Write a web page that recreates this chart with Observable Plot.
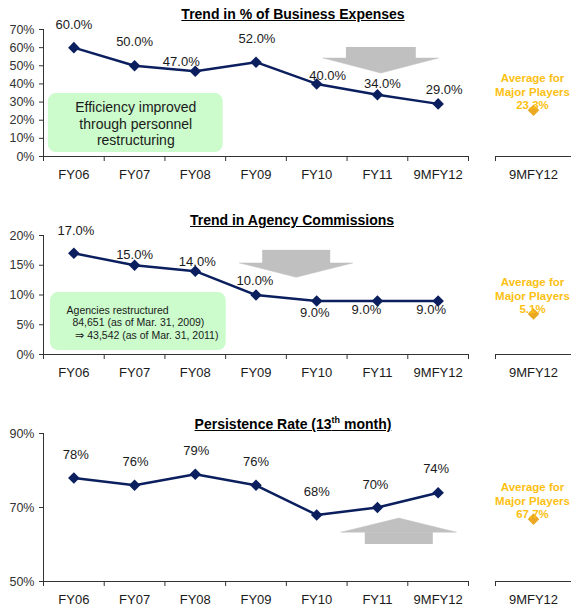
<!DOCTYPE html>
<html>
<head>
<meta charset="utf-8">
<script src="https://cdn.jsdelivr.net/npm/d3@7"></script>
<script src="https://cdn.jsdelivr.net/npm/@observablehq/plot@0.6"></script>
<style>
  body { margin: 0; background: #fff; }
  #chart { position: relative; width: 571px; height: 606px; overflow: hidden; font-family: "Liberation Sans", Arial, sans-serif; background: #fff; }
  .title { position: absolute; transform: translateX(-50%); font-weight: bold; font-size: 14px; text-decoration: underline; white-space: nowrap; line-height: 16px; color: #000; z-index: 2; }
  .title sup { font-size: 9px; line-height: 0; }
  .panel { position: absolute; }
</style>
</head>
<body>
<div id="chart"></div>
<script>
// ---------- data ----------
const periods = ["FY06", "FY07", "FY08", "FY09", "FY10", "FY11", "9MFY12"];
const expenseRatio = [60.0, 50.0, 47.0, 52.0, 40.0, 34.0, 29.0];
const agencyCommission = [17.0, 15.0, 14.0, 10.0, 9.0, 9.0, 9.0];
const persistenceRate = [78, 76, 79, 76, 68, 70, 74];

const peerPeriod = "9MFY12";
const peerExpense = 23.3;
const peerCommission = 5.1;
const peerPersistence = 67.7;

const expenseTicks = [0, 10, 20, 30, 40, 50, 60, 70];
const commissionTicks = [0, 5, 10, 15, 20];
const persistenceTicks = [50, 70, 90];

const titles = ["Trend in % of Business Expenses", "Trend in Agency Commissions", "Persistence Rate (13<sup>th</sup> month)"];
const peerLabel = "Average for\nMajor Players";
const expenseNote = "Efficiency improved\nthrough personnel\nrestructuring";
const commissionNote = "Agencies restructured\n  84,651 (as of Mar. 31, 2009)\n   \u21d2 43,542 (as of Mar. 31, 2011)";

// ---------- styling ----------
const navy = "#0b1f5e";
const gold = "#fdbf12";
const goldDot = "#eaa823";
const gray = "#c0c0c0";
const green = "#ccfbcc";
const axisColor = "#333";
const textColor = "#1a1a1a";
const font = "'Liberation Sans', Arial, sans-serif";

const chart = document.getElementById("chart");

function place(el, left, top) {
  el.classList.add("panel");
  el.style.left = left + "px";
  el.style.top = top + "px";
  chart.appendChild(el);
}

function arrowMarks(a) {
  const tri = [
    {x: a.cx - a.halfHead, y1: a.yNeck, y2: a.yNeck},
    {x: a.cx, y1: a.yTip, y2: a.yNeck},
    {x: a.cx + a.halfHead, y1: a.yNeck, y2: a.yNeck}
  ];
  return [
    Plot.rect([a], {x1: d => d.cx - d.halfShaft, x2: d => d.cx + d.halfShaft, y1: "yTail", y2: "yNeck", fill: gray}),
    Plot.areaY(tri, {x: "x", y1: "y1", y2: "y2", fill: gray, stroke: gray, strokeWidth: 0.5})
  ];
}

function mainPanel(o) {
  const data = o.values.map((v, i) => ({i, v}));
  const marks = [];
  if (o.box) {
    marks.push(Plot.rect([o.box], {x1: "x1", x2: "x2", y1: "y1", y2: "y2", fill: green, rx: 8}));
    marks.push(Plot.text([o.box], {x: "tx", y: "ty", text: "text", textAnchor: o.box.anchor, lineAnchor: "middle",
      fontSize: o.box.fontSize, lineHeight: o.box.lineHeight, fill: textColor}));
  }
  marks.push(...arrowMarks(o.arrow));
  marks.push(
    Plot.ruleX([-0.5], {stroke: axisColor}),
    Plot.ruleY([o.yDomain[0]], {stroke: axisColor}),
    Plot.axisY({ticks: o.yTicks, tickFormat: d => d + "%", tickSize: 4, tickPadding: 5, fontSize: 12.5, color: axisColor, label: null}),
    Plot.axisX({ticks: d3.range(-0.5, 7, 1), tickSize: 5, tickFormat: () => "", color: axisColor, label: null}),
    Plot.axisX({ticks: d3.range(periods.length), tickSize: 0, tickPadding: 13, tickFormat: i => periods[i], fontSize: 13, color: textColor, label: null}),
    Plot.line(data, {x: "i", y: "v", stroke: navy, strokeWidth: 2.5}),
    Plot.dot(data, {x: "i", y: "v", symbol: "diamond2", r: 5.2, fill: navy, stroke: "none"}),
    ...data.map((d, k) => Plot.text([d], {x: "i", y: "v", text: d => o.fmt(d.v), dx: o.dx[k], dy: o.dy[k], fontSize: 13, fill: textColor}))
  );
  return Plot.plot({
    width: 470, height: o.height,
    marginLeft: 43, marginRight: 2, marginTop: o.marginTop, marginBottom: o.marginBottom,
    x: {type: "linear", domain: [-0.5, 6.5]},
    y: {type: "linear", domain: o.yDomain},
    style: {fontFamily: font, fontSize: "13px", background: "transparent", color: textColor},
    marks
  });
}

function sidePanel(o) {
  const d = [{i: 0, v: o.value}];
  return Plot.plot({
    width: 91, height: o.height,
    marginLeft: 15, marginRight: 0, marginTop: o.marginTop, marginBottom: o.marginBottom,
    x: {type: "linear", domain: [-0.5, 0.5]},
    y: {type: "linear", domain: o.yDomain, axis: null},
    style: {fontFamily: font, fontSize: "13px", background: "transparent", color: textColor},
    marks: [
      Plot.ruleY([o.yDomain[0]], {stroke: axisColor}),
      Plot.axisX({ticks: [-0.5, 0.5], tickSize: 5, tickFormat: () => "", color: axisColor, label: null}),
      Plot.axisX({ticks: [0], tickSize: 0, tickPadding: 13, tickFormat: () => peerPeriod, fontSize: 13, color: textColor, label: null}),
      Plot.dot(d, {x: "i", y: "v", symbol: "diamond2", r: 5.2, fill: goldDot}),
      Plot.text(d, {x: "i", y: "v", text: p => peerLabel + "\n" + p.v.toFixed(1) + "%", lineAnchor: "bottom", dy: -1, dx: -1,
        fontWeight: "bold", fontSize: 11.5, lineHeight: 1.17, fill: gold})
    ]
  });
}

// ---------- panel 1 ----------
place(mainPanel({
  values: expenseRatio, yDomain: [0, 70], yTicks: expenseTicks, fmt: v => v.toFixed(1) + "%",
  height: 190, marginTop: 29, marginBottom: 34,
  dx: [0, 0, -14, 1, 11, 5, 6], dy: [-23, -24, -9, -23, -8, -11, -14],
  box: {x1: -0.42, x2: 2.46, y1: 2.2, y2: 34.7, tx: 1.02, ty: 18.2, text: expenseNote, anchor: "middle", fontSize: 14, lineHeight: 1.18},
  arrow: {cx: 5.065, halfShaft: 0.575, halfHead: 0.95, yTail: 60.1, yNeck: 54.0, yTip: 45.7}
}), 0, 0);
place(sidePanel({value: peerExpense, yDomain: [0, 64], height: 190, marginTop: 29, marginBottom: 34}), 480, 0);

// ---------- panel 2 ----------
place(mainPanel({
  values: agencyCommission, yDomain: [0, 20], yTicks: commissionTicks, fmt: v => v.toFixed(1) + "%",
  height: 190, marginTop: 35, marginBottom: 36,
  dx: [2, 0, 2, -1, -2, -11, -7], dy: [-23, -10, -9, -14, 12, 9, 9],
  box: {x1: -0.385, x2: 2.51, y1: 0.67, y2: 10.4, tx: -0.12, ty: 5.38, text: commissionNote, anchor: "start", fontSize: 10.5, lineHeight: 1.19},
  arrow: {cx: 3.67, halfShaft: 0.56, halfHead: 0.93, yTail: 17.5, yNeck: 15.3, yTip: 12.9}
}), 0, 200);
place(sidePanel({value: peerCommission, yDomain: [0, 15], height: 190, marginTop: 35, marginBottom: 36}), 480, 200);

// ---------- panel 3 ----------
place(mainPanel({
  values: persistenceRate, yDomain: [50, 90], yTicks: persistenceTicks, fmt: v => v.toFixed(0) + "%",
  height: 206, marginTop: 33, marginBottom: 25,
  dx: [2, 1, 1, 0, 0, -2, -2], dy: [-23, -23, -23, -23, -23, -23, -24],
  box: null,
  arrow: {cx: 5.36, halfShaft: 0.56, halfHead: 0.95, yTail: 60.0, yNeck: 63.2, yTip: 67.0}
}), 0, 400);
place(sidePanel({value: peerPersistence, yDomain: [50, 92], height: 206, marginTop: 33, marginBottom: 25}), 480, 400);

// ---------- titles ----------
[[293, 6], [292, 212], [293, 416]].forEach(([cx, top], k) => {
  const t = document.createElement("div");
  t.className = "title";
  t.innerHTML = titles[k];
  t.style.left = cx + "px";
  t.style.top = top + "px";
  chart.appendChild(t);
});
</script>
</body>
</html>
